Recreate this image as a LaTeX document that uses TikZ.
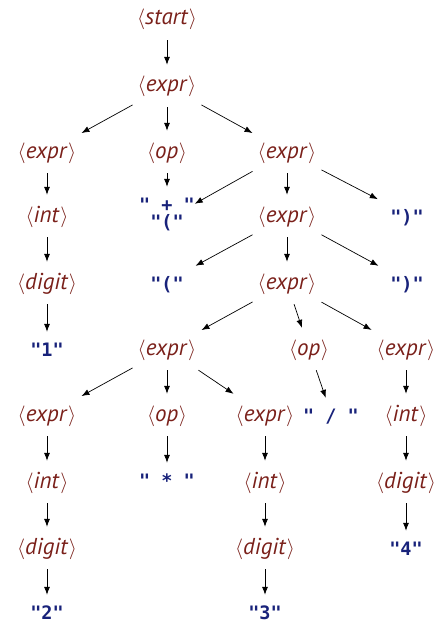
\documentclass[tikz,border=0pt]{standalone}
\usepackage{fontspec}
\usetikzlibrary{arrows.meta}
\newfontfamily\ntfont{PT Sans}
\newfontfamily\tmfont{DejaVu Sans Mono}
\definecolor{ntc}{RGB}{122,32,26}
\definecolor{tmc}{RGB}{24,34,122}
\newcommand\ntx[1]{{\fontsize{20}{24}\selectfont$\langle$}\textit{#1}\hspace{0.5pt}{\fontsize{20}{24}\selectfont$\rangle$}}
\tikzset{
  ntbox/.style={anchor=base, inner ysep=0pt, inner xsep=5pt, text height=27pt, text depth=15pt,
    text=ntc, font=\ntfont\fontsize{23}{26}\selectfont},
  tmbox/.style={anchor=base, inner sep=0pt, minimum width=58pt, text height=24.7pt, text depth=6pt,
    text=tmc, font=\tmfont\bfseries\fontsize{18.5}{22}\selectfont},
  edge/.style={-{Latex[length=8pt,width=6pt]}, line width=0.7pt, black}
}
\newcommand\NT[3]{\node[ntbox] (#1) at (#2) {\ntx{#3}};}
\begin{document}
\begin{tikzpicture}[x=1pt,y=-1pt]
\useasboundingbox (0,0) rectangle (438,626);
% nonterminals: baseline = visual centre + 5
\NT{s}{167,25}{start}
\NT{e1}{167,92}{expr}
\NT{e2a}{47,158}{expr}
\NT{o2}{167,158}{op}
\NT{e2b}{287,158}{expr}
\NT{i3}{47,222}{int}
\NT{e3}{287,222}{expr}
\NT{d4}{47,289}{digit}
\NT{e4}{287,289}{expr}
\NT{e5a}{167,355}{expr}
\NT{o5}{309,355}{op}
\NT{e5b}{406,355}{expr}
\NT{e6a}{47,421}{expr}
\NT{o6}{167,421}{op}
\NT{e6b}{265,421}{expr}
\NT{i6}{406,421}{int}
\NT{i7a}{47,488}{int}
\NT{i7b}{265,488}{int}
\NT{d7}{406,488}{digit}
\NT{d8a}{47,554}{digit}
\NT{d8b}{265,554}{digit}
% terminals: baseline = visual centre + 6.7
\node[tmbox] (tplus) at (167,211.7) {" + "};
\node[tmbox] (tlp1) at (167,228.7) {"("};
\node[tmbox] (trp1) at (407,223.7) {")"};
\node[tmbox] (tlp2) at (167,290.7) {"("};
\node[tmbox] (trp2) at (407,290.7) {")"};
\node[tmbox] (t1) at (47,356.7) {"1"};
\node[tmbox] (tdiv) at (331,422.7) {" / "};
\node[tmbox] (tmul) at (167,487.7) {" * "};
\node[tmbox] (t4) at (406,555.7) {"4"};
\node[tmbox] (t2) at (47,619.7) {"2"};
\node[tmbox] (t3) at (265,619.7) {"3"};
% edges
\foreach \a/\b in {s/e1, e1/e2a, e1/o2, e1/e2b, e2a/i3, o2/tplus, e2b/tlp1, e2b/e3, e2b/trp1,
  i3/d4, e3/tlp2, e3/e4, e3/trp2, d4/t1, e4/e5a, e4/o5, e4/e5b, e5a/e6a, e5a/o6, e5a/e6b,
  o5/tdiv, e5b/i6, e6a/i7a, o6/tmul, e6b/i7b, i6/d7, i7a/d8a, i7b/d8b, d7/t4, d8a/t2, d8b/t3}
  \draw[edge] (\a) -- (\b);
\end{tikzpicture}
\end{document}
